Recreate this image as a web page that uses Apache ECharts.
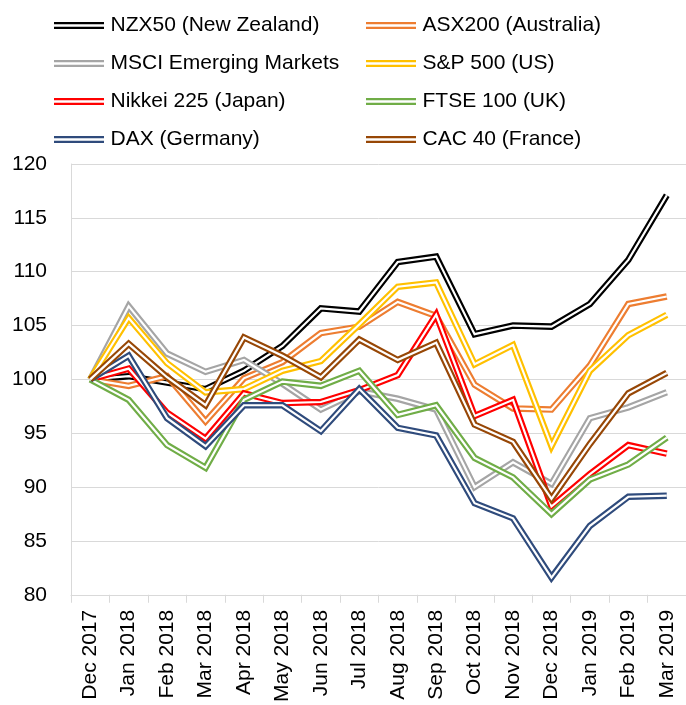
<!DOCTYPE html>
<html>
<head>
<meta charset="utf-8">
<script src="https://cdn.jsdelivr.net/npm/echarts@6/dist/echarts.min.js"></script>
<style>
html,body{margin:0;padding:0;background:#fff;}
#chart{width:686px;height:705px;}
</style>
</head>
<body>
<div id="chart"></div>
<script>
var categories = ['Dec 2017','Jan 2018','Feb 2018','Mar 2018','Apr 2018','May 2018','Jun 2018','Jul 2018','Aug 2018','Sep 2018','Oct 2018','Nov 2018','Dec 2018','Jan 2019','Feb 2019','Mar 2019'];
var nzx50  = [100, 100.3, 99.7, 99.1, 100.8, 103.1, 106.6, 106.3, 110.9, 111.4, 104.2, 105.0, 104.9, 107.0, 111.1, 117.1];
var asx200 = [100, 99.4, 100.3, 96.1, 100.1, 101.6, 104.3, 104.9, 107.2, 105.9, 99.5, 97.3, 97.2, 101.3, 107.0, 107.7];
var msci   = [100, 106.8, 102.4, 100.7, 101.8, 99.6, 97.2, 98.9, 98.2, 97.2, 90.0, 92.3, 90.3, 96.4, 97.4, 98.8];
var sp500  = [100, 105.7, 101.5, 98.8, 99.1, 100.8, 101.7, 105.1, 108.6, 109.0, 101.4, 103.2, 93.8, 100.8, 104.1, 106.0];
var nikkei = [100, 101.0, 96.9, 94.5, 98.7, 97.8, 97.9, 99.0, 100.4, 106.0, 96.6, 98.1, 88.2, 91.2, 93.9, 93.1];
var ftse   = [100, 98.1, 93.9, 91.8, 98.1, 99.8, 99.4, 100.8, 96.7, 97.6, 92.7, 90.9, 87.5, 90.7, 92.1, 94.6];
var dax    = [100, 102.2, 96.4, 93.8, 97.6, 97.6, 95.2, 99.1, 95.5, 94.8, 88.5, 87.1, 81.6, 86.4, 89.1, 89.2];
var cac40  = [100, 103.3, 100.2, 97.6, 103.9, 102.2, 100.2, 103.7, 101.8, 103.4, 95.8, 94.2, 88.9, 94.0, 98.7, 100.6];

var seriesNames = ['NZX50 (New Zealand)','ASX200 (Australia)','MSCI Emerging Markets','S&P 500 (US)','Nikkei 225 (Japan)','FTSE 100 (UK)','DAX (Germany)','CAC 40 (France)'];
var seriesData = [nzx50, asx200, msci, sp500, nikkei, ftse, dax, cac40];
var colors = ['#000000','#ED7D31','#A5A5A5','#FFC000','#FF0000','#70AD47','#2F4B7C','#974706'];

var FONT = 'Liberation Sans';
var series = [];
seriesData.forEach(function(d, i){
  series.push({
    name: seriesNames[i], type: 'line', data: d, color: colors[i],
    symbol: 'none', smooth: false,
    lineStyle: {color: colors[i], width: 6.5, join: 'miter'},
    emphasis: {disabled: true}, silent: true
  });
  series.push({
    name: '_w' + i, type: 'line', data: d, color: '#ffffff',
    symbol: 'none', smooth: false,
    lineStyle: {color: '#ffffff', width: 2.2, join: 'miter'},
    emphasis: {disabled: true}, silent: true
  });
});

var iconPath = 'path://M0,0H50V2.3H0Z M0,4.7H50V7H0Z';
function legendCol(names, left){
  return {
    data: names, orient: 'vertical', left: left, top: 15, padding: 0,
    itemWidth: 51, itemHeight: 7, itemGap: 17,
    icon: iconPath,
    itemStyle: {borderWidth: 0},
    selectedMode: false,
    textStyle: {fontFamily: FONT, fontSize: 21, color: '#000', padding: [0,0,0,1]}
  };
}

var chart = echarts.init(document.getElementById('chart'), null, {renderer: 'canvas'});
chart.setOption({
  animation: false,
  backgroundColor: '#ffffff',
  legend: [
    legendCol([seriesNames[0], seriesNames[2], seriesNames[4], seriesNames[6]], 54),
    legendCol([seriesNames[1], seriesNames[3], seriesNames[5], seriesNames[7]], 366)
  ],
  grid: {left: 71, right: -5, top: 164, bottom: 109, containLabel: false},
  xAxis: {
    type: 'category', data: categories, boundaryGap: true,
    axisLine: {lineStyle: {color: '#D9D9D9', width: 1}},
    axisTick: {show: true, length: 8, lineStyle: {color: '#D9D9D9'}},
    axisLabel: {rotate: 90, interval: 0, margin: 15, fontFamily: FONT, fontSize: 21, color: '#000'}
  },
  yAxis: {
    type: 'value', min: 80, max: 120, interval: 5,
    axisLine: {show: true, lineStyle: {color: '#D9D9D9', width: 1}},
    axisTick: {show: false},
    splitLine: {lineStyle: {color: '#D9D9D9', width: 1}},
    axisLabel: {margin: 24, fontFamily: FONT, fontSize: 21, color: '#000'}
  },
  series: series
});
</script>
</body>
</html>
